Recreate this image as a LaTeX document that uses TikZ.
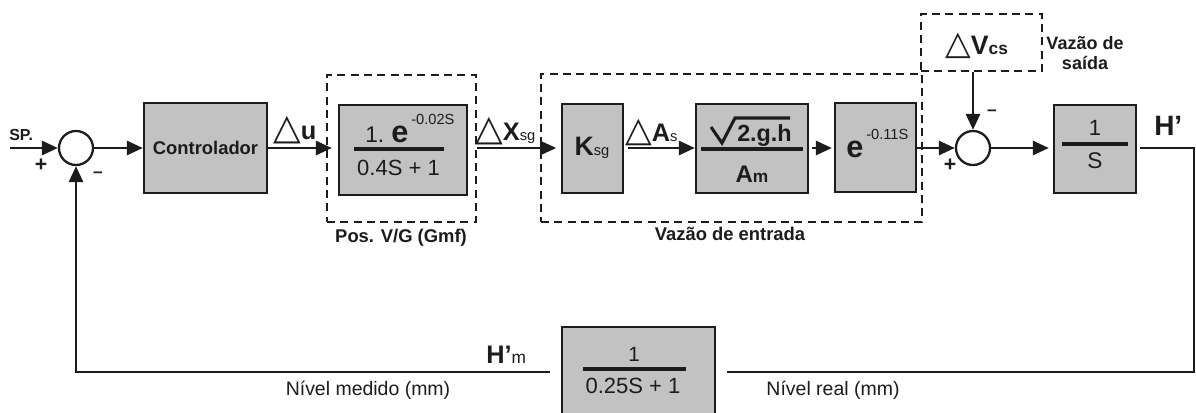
\documentclass[tikz,border=0pt]{standalone}
\usepackage{fontspec}
\setmainfont{Liberation Sans}
\newfontfamily\symfont{DejaVu Sans}
\usetikzlibrary{arrows.meta,fit}
\definecolor{boxgrey}{RGB}{194,194,194}
\definecolor{ink}{RGB}{28,28,28}
\newcommand\fs[1]{\fontsize{#1}{#1}\selectfont}
\newcommand\mytri[1]{{\symfont\fontsize{#1}{#1}\selectfont △}}
\begin{document}
\begin{tikzpicture}[x=0.75pt,y=-0.75pt,
  blk/.style={draw=ink, line width=1.7pt, fill=boxgrey, inner sep=0pt},
  dbox/.style={draw=ink, line width=1.5pt, dash pattern=on 6pt off 4pt, inner sep=0pt},
  sig/.style={line width=2.1pt, draw=ink},
  arr/.style={sig, -{Triangle[length=12pt,width=10.5pt]}},
  sumj/.style={circle, draw=ink, line width=1.7pt, minimum size=25.5pt, inner sep=0pt},
  bar/.style={line width=2.3pt, draw=ink},
  txt/.style={inner sep=0pt, text=ink}]
\useasboundingbox (0,0) rectangle (1196,412);
\fill[white] (0,0) rectangle (1196,412);
% dashed groups
\node[dbox, fit={(327,75) (476,222)}] (g1d) {};
\node[dbox, fit={(541,74) (922,222)}] (g2d) {};
\node[dbox, fit={(921,14) (1042,71)}] (vcsd) {};
% blocks
\node[blk, fit={(144,103) (267,193)}] (ctrl) {};
\node[blk, fit={(339,105) (467,195)}] (g1) {};
\node[blk, fit={(562,104) (623,193)}] (ksg) {};
\node[blk, fit={(696,104) (808,193)}] (sq) {};
\node[blk, fit={(835,103) (916,192)}] (eb) {};
\node[blk, fit={(1054,105) (1136,193)}] (int) {};
\node[blk, fit={(562,327) (715,417)}] (fb) {};
\node[sumj] (s1) at (76,148) {};
\node[sumj] (s2) at (973,148) {};
% connectors
\coordinate (sp) at (10,148);
\coordinate (c1) at (1194,148);
\draw[arr] (sp) -- (s1.west);
\draw[arr] (s1.east) -- (s1.east -| ctrl.west);
\draw[arr, shorten >=4.5pt] (s1.east -| ctrl.east) -- (s1.east -| g1.west);
\draw[arr, shorten >=3.5pt] (s1.east -| g1d.east) -- (s1.east -| ksg.west);
\draw[arr, shorten <=3pt] (s1.east -| ksg.east) -- (s1.east -| sq.west);
\draw[arr, shorten <=2pt, shorten >=1.5pt] (s1.east -| sq.east) -- (s1.east -| eb.west);
\draw[arr] (s1.east -| eb.east) -- (s2.west);
\draw[arr] (s2 |- vcsd.south) -- (s2.north);
\draw[arr, shorten >=3pt] (s2.east) -- (s2.east -| int.west);
\draw[sig, shorten <=2pt, shorten >=8pt] (s2.east -| int.east) -- (c1) |- (fb.east);
\draw[arr, shorten <=8pt] (fb.west) -| (s1.south);
% signs
\node[txt, anchor=base west, font=\bfseries\fs{12}] (splab) at (9,140) {SP.};
\node[txt, font=\bfseries\fs{16}] (p1) at (41,165) {+};
\node[txt, font=\bfseries\fs{13}] (m1) at (98,175) {–};
\node[txt, font=\bfseries\fs{16}] (p2) at (950,165) {+};
\node[txt, font=\bfseries\fs{13}] (m2) at (992,113) {–};
% block texts
\node[txt, font=\bfseries\fs{13.8}] (ctrlt) at (ctrl) {Controlador};
\node[txt, anchor=base west, font=\fs{17}] (g1n) at (365,142) {1.};
\node[txt, anchor=base west, font=\bfseries\fs{23}] (g1e) at (391,142) {e};
\node[txt, anchor=base west, font=\fs{11}] (g1s) at (411,124) {-0.02S};
\draw[bar] (354,149) -- (444,149);
\node[txt, anchor=base, font=\fs{16.5}] (g1den) at (398.5,175) {0.4S + 1};
\node[txt, anchor=base, font=\bfseries\fs{20}] (ksgt) at (592,155) {K{\mdseries\fs{11}sg}};
\draw[bar, line join=miter] (711,127) -- (722,143) -- (735,118) -- (790,118);
\node[txt, anchor=base west, font=\bfseries\fs{17.5}] (sqn) at (737,141) {2.g.h};
\draw[bar] (701,149) -- (803,149);
\node[txt, anchor=base, font=\bfseries\fs{18}] (sqd) at (752,182) {A{\fs{13}m}};
\node[txt, anchor=base west, font=\bfseries\fs{23}] (ebe) at (846,157) {e};
\node[txt, anchor=base west, font=\fs{11}] (ebs) at (866,139) {-0.11S};
\node[txt, anchor=base, font=\fs{16.5}] (int1) at (1095,135) {1};
\draw[bar] (1062,144) -- (1128,144);
\node[txt, anchor=base, font=\fs{17}] (ints) at (1095,168) {S};
\node[txt, anchor=base, font=\fs{15.5}] (fb1) at (634,361) {1};
\draw[bar] (583,369) -- (686,369);
\node[txt, anchor=base, font=\fs{16.5}] (fbd) at (633,393) {0.25S + 1};
% signal labels
\node[txt, anchor=base west] (du) at (273,139) {\mytri{27}{\bfseries\fs{19}u}};
\node[txt, anchor=base west] (dx) at (475,140) {\mytri{27}{\bfseries\fs{19}X}{\fs{11}sg}};
\node[txt, anchor=base west] (da) at (625,141) {\mytri{26}{\bfseries\fs{19}A}{\fs{11}s}};
\node[txt, anchor=base west] (dv) at (945,54) {\mytri{25}{\bfseries\fs{20}V\fs{13}cs}};
\node[txt, anchor=base west, font=\bfseries\fs{21}] (hp) at (1154,135) {H’};
\node[txt, anchor=base west, font=\bfseries\fs{19}] (hm) at (486,363) {H’{\mdseries\fs{13}m}};
% group labels
\node[txt, anchor=base, font=\bfseries\fs{13.8}] (l1) at (401,242) {Pos. V/G (Gmf)};
\node[txt, anchor=base, font=\bfseries\fs{13.8}] (l2) at (730,240) {Vazão de entrada};
\node[txt, align=center, font=\bfseries\fontsize{13.5}{15}\selectfont] (l3) at (1085,53) {Vazão de\\saída};
\node[txt, anchor=base, font=\fs{14.6}] (l4) at (368,395) {Nível medido (mm)};
\node[txt, anchor=base, font=\fs{14.6}] (l5) at (833,395) {Nível real (mm)};
\end{tikzpicture}
\end{document}
